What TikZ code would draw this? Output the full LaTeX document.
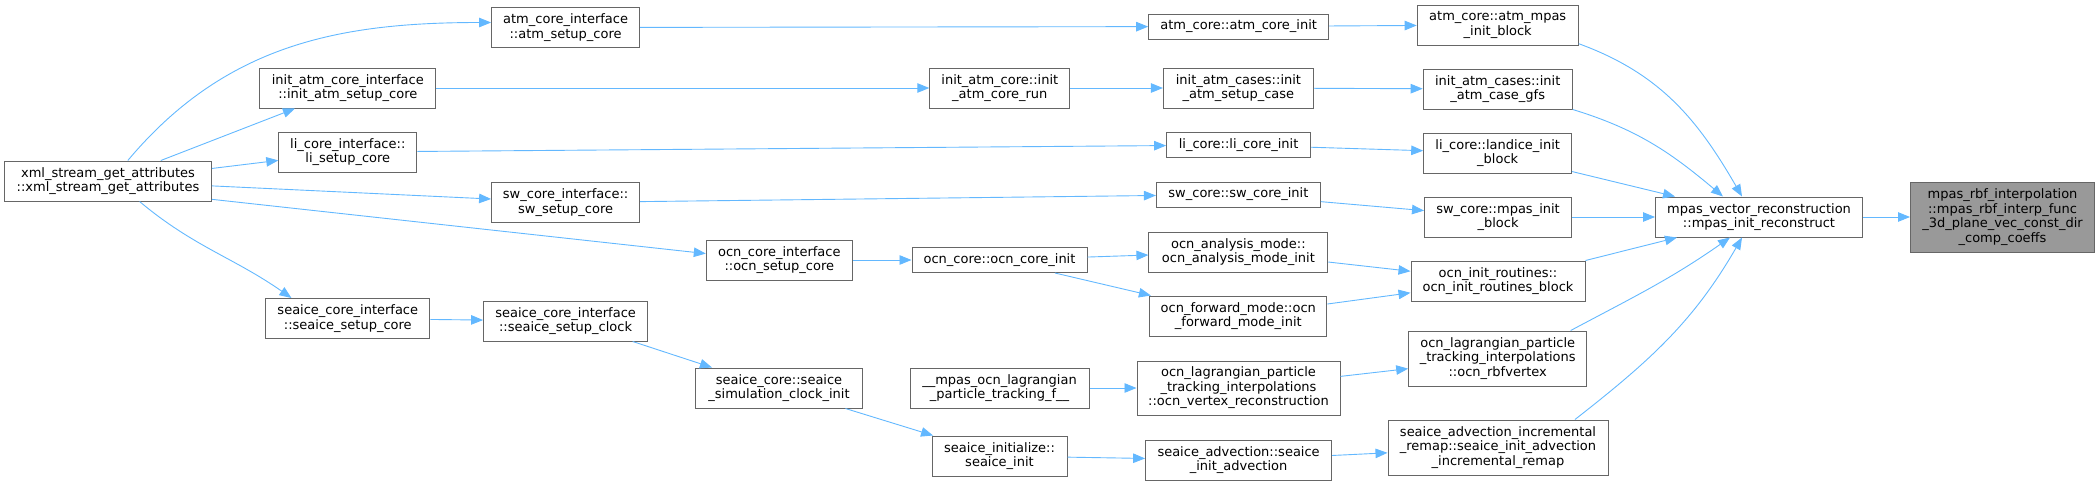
\documentclass[tikz,border=0pt]{standalone}
\usepackage{fontspec}
\setmainfont{DejaVu Sans}
\usetikzlibrary{arrows.meta}

\definecolor{edgeblue}{HTML}{63B8FF}
\definecolor{grey40}{HTML}{666666}
\definecolor{grey60}{HTML}{999999}

\begin{document}
\begin{tikzpicture}[x=1pt, y=1pt,
  fn/.style={draw=grey40, fill=white, line width=1pt, align=center, inner sep=0pt,
    minimum height=40pt, font=\fontsize{13}{14.5}\selectfont},
  fnone/.style={fn, minimum height=25pt},
  fnthree/.style={fn, minimum height=55pt},
  call/.style={draw=edgeblue, line width=0.9pt, -{Triangle[length=12pt,width=9.5pt]}}]

\path[use as bounding box] (0,0) rectangle (2100,-485);

% Callers, left to right
\node[fn, minimum width=207pt] (xml) at (108,-181) {xml\_stream\_get\_attributes\\::xml\_stream\_get\_attributes};

\node[fn, minimum width=176pt] (initci) at (347.8,-88) {init\_atm\_core\_interface\\::init\_atm\_setup\_core};
\node[fn, minimum width=138pt] (lici) at (347.8,-152) {li\_core\_interface::\\li\_setup\_core};
\node[fn, minimum width=164pt] (siceci) at (347.8,-318.5) {seaice\_core\_interface\\::seaice\_setup\_core};

\node[fn, minimum width=148pt] (atmci) at (565.6,-27.5) {atm\_core\_interface\\::atm\_setup\_core};
\node[fn, minimum width=148pt] (swci) at (565.6,-202.5) {sw\_core\_interface::\\sw\_setup\_core};
\node[fn, minimum width=164pt] (siceclk) at (565.6,-321) {seaice\_core\_interface\\::seaice\_setup\_clock};

\node[fn, minimum width=146pt] (ocnci) at (779.3,-260) {ocn\_core\_interface\\::ocn\_setup\_core};
\node[fn, minimum width=167pt] (sicesim) at (779,-388) {seaice\_core::seaice\\\_simulation\_clock\_init};

\node[fn, minimum width=140pt] (initcore) at (999.8,-88) {init\_atm\_core::init\\\_atm\_core\_run};
\node[fnone, minimum width=175pt] (ocncore) at (999.5,-260) {ocn\_core::ocn\_core\_init};
\node[fn, minimum width=179pt] (lagf) at (999.5,-388) {\_\_mpas\_ocn\_lagrangian\\\_particle\_tracking\_f\_\_};
\node[fn, minimum width=135pt] (siceinit) at (999.5,-456) {seaice\_initialize::\\seaice\_init};

\node[fnone, minimum width=180pt] (atmcore) at (1238.7,-26.5) {atm\_core::atm\_core\_init};
\node[fn, minimum width=150pt] (initcase) at (1238.4,-88) {init\_atm\_cases::init\\\_atm\_setup\_case};
\node[fnone, minimum width=144pt] (licore) at (1238.6,-145) {li\_core::li\_core\_init};
\node[fnone, minimum width=164pt] (swcore) at (1238.4,-194.5) {sw\_core::sw\_core\_init};
\node[fn, minimum width=179pt] (ocnana) at (1238.4,-252) {ocn\_analysis\_mode::\\ocn\_analysis\_mode\_init};
\node[fn, minimum width=177pt] (ocnfwd) at (1238.3,-316) {ocn\_forward\_mode::ocn\\\_forward\_mode\_init};
\node[fnthree, minimum width=203pt, minimum height=54pt] (vrecon) at (1238.5,-388) {ocn\_lagrangian\_particle\\\_tracking\_interpolations\\::ocn\_vertex\_reconstruction};
\node[fn, minimum width=186pt] (siceadv) at (1238.6,-460) {seaice\_advection::seaice\\\_init\_advection};

\node[fn, minimum width=161pt] (atmblk) at (1497.7,-25) {atm\_core::atm\_mpas\\\_init\_block};
\node[fn, minimum width=149pt] (gfs) at (1497.7,-89) {init\_atm\_cases::init\\\_atm\_case\_gfs};
\node[fn, minimum width=148pt] (liblk) at (1497.7,-153) {li\_core::landice\_init\\\_block};
\node[fn, minimum width=147pt] (swblk) at (1498,-217) {sw\_core::mpas\_init\\\_block};
\node[fn, minimum width=174pt] (ocninit) at (1498,-281) {ocn\_init\_routines::\\ocn\_init\_routines\_block};
\node[fnthree, minimum width=178pt] (rbfv) at (1497.7,-358.5) {ocn\_lagrangian\_particle\\\_tracking\_interpolations\\::ocn\_rbfvertex};
\node[fnthree, minimum width=220pt] (remap) at (1498,-447.5) {seaice\_advection\_incremental\\\_remap::seaice\_init\_advection\\\_incremental\_remap};

\node[fn, minimum width=207pt] (recon) at (1759,-217) {mpas\_vector\_reconstruction\\::mpas\_init\_reconstruct};

% Documented function
\node[fn, fill=grey60, minimum width=184pt, minimum height=70pt] (target) at (2002.5,-217) {mpas\_rbf\_interpolation\\::mpas\_rbf\_interp\_func\\\_3d\_plane\_vec\_const\_dir\\\_comp\_coeffs};

% Calls out of xml_stream_get_attributes
\draw[call] (xml.46) to[out=50,in=180] ([yshift=5pt]atmci.west);
\draw[call] (xml) -- (initci);
\draw[call] (xml) -- (lici);
\draw[call] (xml) -- (swci);
\draw[call] (xml.-10) -- (ocnci.175);
\draw[call] (xml.-33) to[out=-40,in=145] (siceci.160);

% Middle of the graph
\draw[call] (atmci) -- (atmcore);
\draw[call] (initci) -- (initcore);
\draw[call] (lici) -- (licore);
\draw[call] (swci) -- (swcore);
\draw[call] (ocnci) -- (ocncore);
\draw[call] (siceci) -- (siceclk);
\draw[call] (siceclk.-17) -- (sicesim.163);
\draw[call] (initcore) -- (initcase);
\draw[call] (ocncore) -- (ocnana);
\draw[call] (ocncore) -- (ocnfwd);
\draw[call] (sicesim) -- (siceinit);
\draw[call] (lagf) -- (vrecon);
\draw[call] (siceinit) -- (siceadv);

\draw[call] (atmcore) -- (atmblk);
\draw[call] (initcase) -- (gfs);
\draw[call] (licore) -- (liblk);
\draw[call] (swcore) -- (swblk);
\draw[call] (ocnana) -- (ocninit);
\draw[call] (ocnfwd) -- (ocninit);
\draw[call] (vrecon) -- (rbfv);
\draw[call] (siceadv) -- (remap);

% Into mpas_init_reconstruct
\draw[call] (atmblk.-13) to[out=-20,in=120] ([xshift=-17pt]recon.north);
\draw[call] (gfs.south east) to[out=-17,in=140] ([xshift=-36pt]recon.north);
\draw[call] (liblk.-14) -- ([xshift=20pt]recon.north west);
\draw[call] (swblk) -- (recon);
\draw[call] (ocninit.north east) -- ([xshift=22pt]recon.south west);
\draw[call] (rbfv.21) to[out=28,in=-145] ([xshift=-29pt]recon.south);
\draw[call] (remap.20) to[out=38,in=-120] ([xshift=-17pt]recon.south);

\draw[call] (recon) -- (target);

\end{tikzpicture}
\end{document}
